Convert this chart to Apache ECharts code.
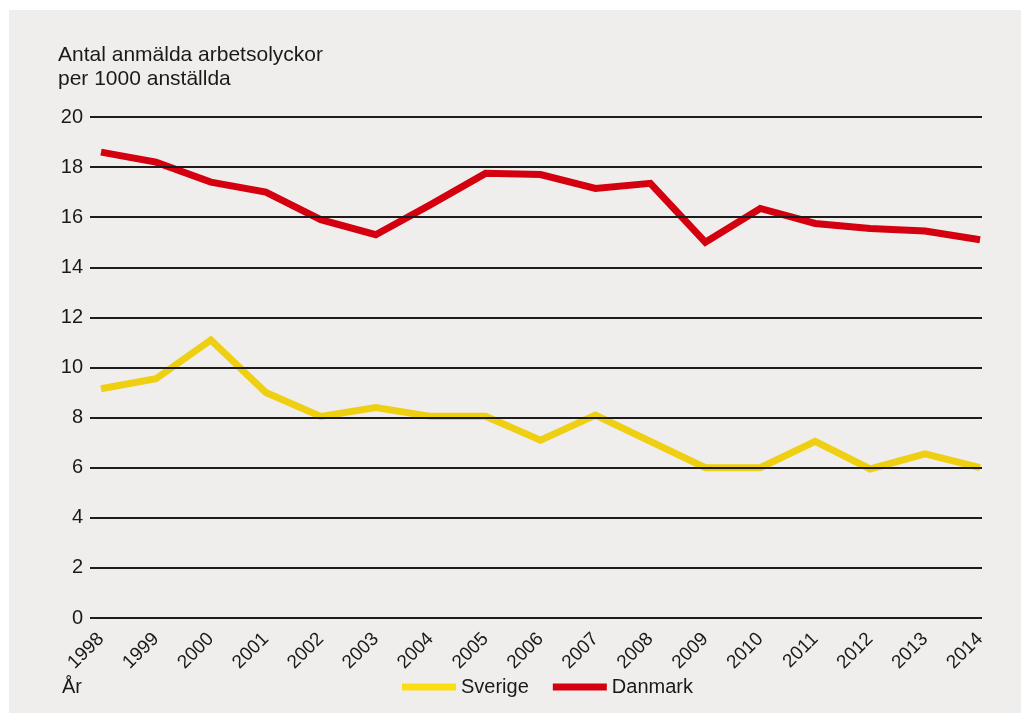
<!DOCTYPE html>
<html>
<head>
<meta charset="utf-8">
<title>Anmälda arbetsolyckor</title>
<script src="https://cdn.jsdelivr.net/npm/echarts@6/dist/echarts.min.js"></script>
<style>
  html, body { margin: 0; padding: 0; background: #ffffff; }
  #panel { position: absolute; left: 9px; top: 10px; width: 1012px; height: 703px; background: #efeeec; }
  #chart { position: absolute; left: 0; top: 0; width: 1021px; height: 713px; }
</style>
</head>
<body>
<div id="panel"></div>
<div id="chart"></div>
<script>
// Years on the horizontal axis
const years = [1998, 1999, 2000, 2001, 2002, 2003, 2004, 2005, 2006, 2007, 2008, 2009, 2010, 2011, 2012, 2013, 2014];

// Reported work accidents per 1000 employees
const sverige = [9.15, 9.55, 11.1, 9.0, 8.05, 8.4, 8.05, 8.05, 7.1, 8.1, 7.05, 6.0, 6.0, 7.05, 5.95, 6.55, 6.0];
const danmark = [18.6, 18.2, 17.4, 17.0, 15.9, 15.3, 16.5, 17.75, 17.7, 17.15, 17.35, 15.0, 16.35, 15.75, 15.55, 15.45, 15.1];

const seriesNames = ['Sverige', 'Danmark'];

const FONT = '"Liberation Sans", Arial, Helvetica, sans-serif';
const INK = '#1a1a1a';
const RED = '#d5000f';
const YELLOW = '#efcf12';
const YELLOW_KEY = '#fbdd12';

const toPairs = vals => years.map((y, i) => [y, vals[i]]);

const chart = echarts.init(document.getElementById('chart'), null, { renderer: 'canvas' });

chart.setOption({
  backgroundColor: 'transparent',
  animation: false,
  textStyle: { fontFamily: FONT },
  title: [
    {
      text: 'Antal anmälda arbetsolyckor\nper 1000 anställda',
      left: 58, top: 43, padding: 0,
      textStyle: { fontFamily: FONT, fontSize: 21, fontWeight: 'normal', color: INK, lineHeight: 24 }
    },
    {
      text: 'År',
      left: 62, top: 676, padding: 0,
      textStyle: { fontFamily: FONT, fontSize: 20, fontWeight: 'normal', color: INK, lineHeight: 22 }
    }
  ],
  legend: {
    left: 402, top: 677, padding: 0,
    icon: 'rect', itemWidth: 54, itemHeight: 7, itemGap: 24,
    textStyle: { fontFamily: FONT, fontSize: 20, color: INK },
    data: [
      { name: seriesNames[0], itemStyle: { color: YELLOW_KEY } },
      { name: seriesNames[1], itemStyle: { color: RED } }
    ]
  },
  grid: { left: 90, right: 39, top: 117, bottom: 95, containLabel: false, outerBoundsMode: 'none' },
  xAxis: {
    type: 'value',
    min: 1997.8,
    max: 2014.036,
    axisLine: { show: false },
    axisTick: { show: false },
    splitLine: { show: false },
    axisLabel: {
      customValues: years,
      rotate: 45,
      margin: 18,
      fontFamily: FONT, fontSize: 19, color: INK,
      formatter: v => String(Math.round(v))
    }
  },
  yAxis: {
    type: 'value',
    min: 0, max: 20, interval: 2,
    z: 5,
    axisLine: { show: false },
    axisTick: { show: false },
    splitLine: { lineStyle: { color: '#1c1c1c', width: 2 } },
    axisLabel: { fontFamily: FONT, fontSize: 20, color: INK, margin: 7 }
  },
  series: [
    {
      name: seriesNames[0], type: 'line', data: toPairs(sverige),
      symbol: 'none', showSymbol: false,
      itemStyle: { color: YELLOW },
      lineStyle: { color: YELLOW, width: 7, join: 'miter', cap: 'butt' }
    },
    {
      name: seriesNames[1], type: 'line', data: toPairs(danmark),
      symbol: 'none', showSymbol: false,
      itemStyle: { color: RED },
      lineStyle: { color: RED, width: 7, join: 'miter', cap: 'butt' }
    }
  ]
});
</script>
</body>
</html>
